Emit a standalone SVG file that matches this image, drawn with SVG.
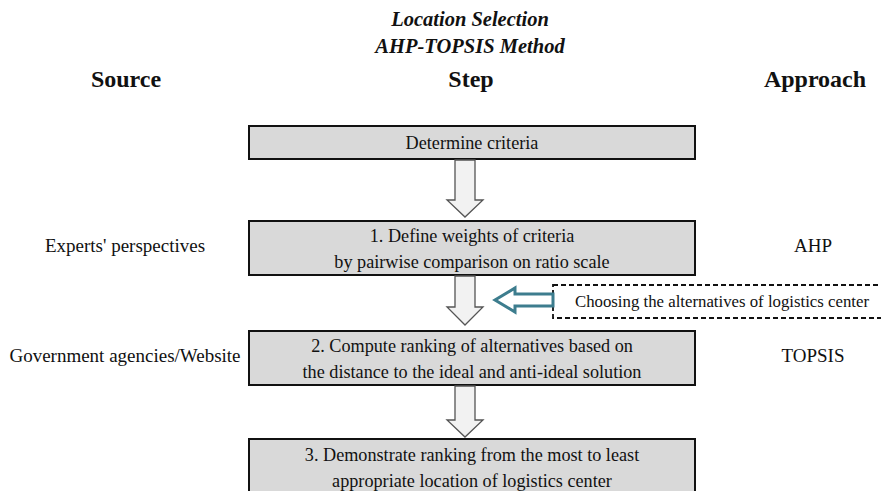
<svg xmlns="http://www.w3.org/2000/svg" width="881" height="491" viewBox="0 0 881 491">
<style>
.box{fill:#d9d9d9;stroke:#111;stroke-width:2}
.t{font-family:"Liberation Serif","Times New Roman",serif;font-size:18.2px;fill:#111;text-anchor:middle}
.side{font-family:"Liberation Serif","Times New Roman",serif;font-size:19px;fill:#111;text-anchor:middle}
.hdr{font-family:"Liberation Serif","Times New Roman",serif;font-size:24px;font-weight:bold;fill:#111;text-anchor:middle}
.title{font-family:"Liberation Serif","Times New Roman",serif;font-size:20.5px;font-weight:bold;font-style:italic;fill:#111;text-anchor:middle}
.alt{font-family:"Liberation Serif","Times New Roman",serif;font-size:16.8px;fill:#111;text-anchor:middle}
.down{fill:#f2f2f2;stroke:#555;stroke-width:1.3}
</style>
<rect width="881" height="491" fill="#fff"/>
<g id="title">
<text class="title" x="470" y="26">Location Selection</text>
<text class="title" x="470" y="53">AHP-TOPSIS Method</text>
</g>
<g id="headers">
<text class="hdr" x="126" y="87">Source</text>
<text class="hdr" x="471" y="87">Step</text>
<text class="hdr" x="815" y="87">Approach</text>
</g>
<g id="n0">
<rect class="box" x="249" y="126" width="446" height="33"/>
<text class="t" x="472" y="149">Determine criteria</text>
</g>
<g id="n1">
<rect class="box" x="249" y="221" width="446" height="54"/>
<text class="t" x="472" y="242">1. Define weights of criteria</text>
<text class="t" x="472" y="268">by pairwise comparison on ratio scale</text>
</g>
<g id="n2">
<rect class="box" x="249" y="331" width="446" height="54"/>
<text class="t" x="472" y="352">2. Compute ranking of alternatives based on</text>
<text class="t" x="472" y="378">the distance to the ideal and anti-ideal solution</text>
</g>
<g id="n3">
<rect class="box" x="249" y="439" width="446" height="54"/>
<text class="t" x="472" y="461">3. Demonstrate ranking from the most to least</text>
<text class="t" x="472" y="487">appropriate location of logistics center</text>
</g>
<g id="alt">
<rect x="553" y="285" width="340" height="33" fill="#fff" stroke="#111" stroke-width="1.8" stroke-dasharray="5,3"/>
<text class="alt" x="722" y="307">Choosing the alternatives of logistics center</text>
</g>
<g id="src">
<text class="side" x="125" y="252">Experts' perspectives</text>
<text class="side" x="125" y="362">Government agencies/Website</text>
</g>
<g id="appr">
<text class="side" x="813" y="252">AHP</text>
<text class="side" x="813" y="362">TOPSIS</text>
</g>
<g id="connectors">
<path class="down" d="M455 160 H475 V200 H483 L465 217 L447 200 H455 Z"/>
<path class="down" d="M455 276 H475 V307 H483 L465 325 L447 307 H455 Z"/>
<path class="down" d="M455 386 H475 V420 H483 L465 437 L447 420 H455 Z"/>
<path d="M553 294 H515 V288 L495 300 L515 312 V306 H553 Z" fill="#fff" stroke="#3d7d8e" stroke-width="3" stroke-linejoin="miter"/>
</g>
</svg>
